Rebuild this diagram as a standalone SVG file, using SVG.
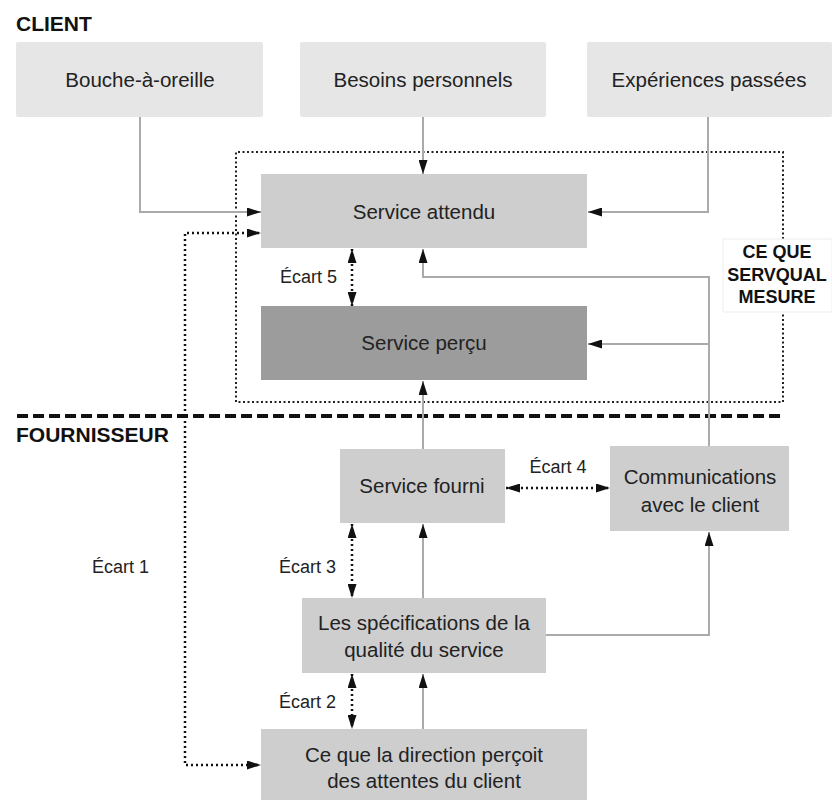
<svg xmlns="http://www.w3.org/2000/svg" width="832" height="800" viewBox="0 0 832 800">
<defs>
<marker id="ah" markerUnits="userSpaceOnUse" markerWidth="14" markerHeight="9" refX="14" refY="4.5" orient="auto-start-reverse">
<path d="M0,0 L14,4.5 L0,9 z" fill="#111"/>
</marker>
</defs>
<style>
.t{font-family:"Liberation Sans",Arial,sans-serif;font-size:20.5px;fill:#222;text-anchor:middle}
.e{font-family:"Liberation Sans",Arial,sans-serif;font-size:18px;fill:#222}
.h{font-family:"Liberation Sans",Arial,sans-serif;font-size:21px;font-weight:bold;fill:#111}
.light{fill:#e6e6e6}
.mid{fill:#cecece}
.dark{fill:#9c9c9c}
.g{fill:none;stroke:#aaa;stroke-width:2}
.gd{fill:none;stroke:#111;stroke-width:2.5;stroke-dasharray:2 3}
.box{fill:none;stroke:#222;stroke-width:2;stroke-dasharray:2 2.5}
</style>
<rect width="832" height="800" fill="#fff"/>
<text class="h" x="16" y="31">CLIENT</text>
<text class="h" x="16" y="442">FOURNISSEUR</text>

<g id="zone">
<path class="box" d="M783,239 V152 H236 V402 H783 V312"/>
<line x1="17" y1="416" x2="783" y2="416" stroke="#111" stroke-width="4" stroke-dasharray="11 5"/>
<rect x="723" y="239" width="109" height="73" fill="#fff" stroke="#eee"/>
<text class="h" style="font-size:18px;text-anchor:middle" x="777" y="258">CE QUE</text>
<text class="h" style="font-size:18px;text-anchor:middle" x="777" y="281">SERVQUAL</text>
<text class="h" style="font-size:18px;text-anchor:middle" x="777" y="303">MESURE</text>
</g>

<g id="connectors">
<path class="g" d="M140,117 V212 H261" marker-end="url(#ah)"/>
<path class="g" d="M423,117 V174" marker-end="url(#ah)"/>
<path class="g" d="M708,117 V212 H588" marker-end="url(#ah)"/>
<path class="g" d="M709,446 V277 H423 V249" marker-end="url(#ah)"/>
<path class="g" d="M709,344 H588" marker-end="url(#ah)"/>
<path class="g" d="M423,449 V381" marker-end="url(#ah)"/>
<path class="g" d="M423,598 V524" marker-end="url(#ah)"/>
<path class="g" d="M546,635 H709 V532" marker-end="url(#ah)"/>
<path class="g" d="M423,729 V674" marker-end="url(#ah)"/>
<path class="gd" d="M185,416 V233 H261" marker-end="url(#ah)"/>
<path class="gd" d="M185,416 V765 H261" marker-end="url(#ah)"/>
<path class="gd" d="M352,249 V306" marker-start="url(#ah)" marker-end="url(#ah)"/>
<path class="gd" d="M506,488 H610" marker-start="url(#ah)" marker-end="url(#ah)"/>
<path class="gd" d="M352,524 V598" marker-start="url(#ah)" marker-end="url(#ah)"/>
<path class="gd" d="M352,674 V729" marker-start="url(#ah)" marker-end="url(#ah)"/>
<text class="e" x="337" y="283" text-anchor="end">Écart 5</text>
<text class="e" x="558" y="473" text-anchor="middle">Écart 4</text>
<text class="e" x="336" y="573" text-anchor="end">Écart 3</text>
<text class="e" x="336" y="708" text-anchor="end">Écart 2</text>
<text class="e" x="92" y="573">Écart 1</text>
</g>

<g id="bouche"><rect class="light" x="16" y="42" width="247" height="75" rx="2"/><text class="t" x="140" y="87">Bouche-à-oreille</text></g>
<g id="besoins"><rect class="light" x="300" y="42" width="246" height="75" rx="2"/><text class="t" x="423" y="87">Besoins personnels</text></g>
<g id="experiences"><rect class="light" x="587" y="42" width="245" height="75" rx="2"/><text class="t" x="709" y="87">Expériences passées</text></g>
<g id="attendu"><rect class="mid" x="261" y="174" width="326" height="74"/><text class="t" x="424" y="219">Service attendu</text></g>
<g id="percu"><rect class="dark" x="261" y="306" width="326" height="74"/><text class="t" x="424" y="350">Service perçu</text></g>
<g id="fourni"><rect class="mid" x="340" y="449" width="165" height="74"/><text class="t" x="422" y="493">Service fourni</text></g>
<g id="communications"><rect class="mid" x="610" y="446" width="179" height="85"/><text class="t" x="700" y="484">Communications</text><text class="t" x="700" y="512">avec le client</text></g>
<g id="specifications"><rect class="mid" x="302" y="598" width="244" height="75"/><text class="t" x="424" y="630">Les spécifications de la</text><text class="t" x="424" y="657">qualité du service</text></g>
<g id="direction"><rect class="mid" x="261" y="729" width="326" height="71"/><text class="t" x="424" y="762">Ce que la direction perçoit</text><text class="t" x="424" y="788">des attentes du client</text></g>
</svg>
